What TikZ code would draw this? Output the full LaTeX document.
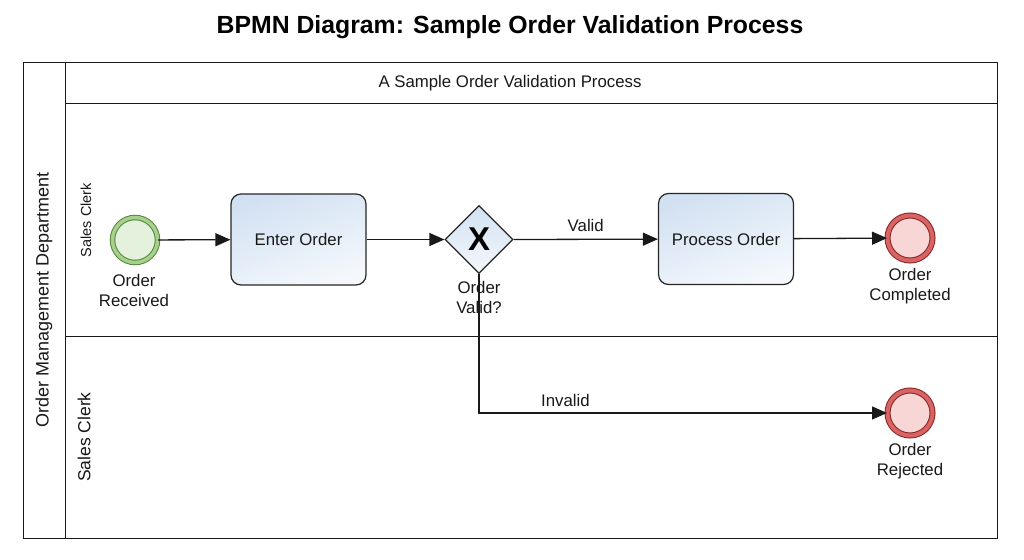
\documentclass[tikz,border=0pt]{standalone}
\usepackage{fontspec}
\setmainfont{Liberation Sans}
\usetikzlibrary{arrows.meta,shapes.geometric}
\definecolor{startdraw}{RGB}{80,135,60}
\definecolor{startring}{RGB}{168,208,140}
\definecolor{startfill}{RGB}{228,241,220}
\definecolor{enddraw}{RGB}{140,35,35}
\definecolor{endring}{RGB}{214,100,100}
\definecolor{endfill}{RGB}{249,214,214}
\definecolor{tasktop}{RGB}{210,225,242}
\definecolor{taskbot}{RGB}{244,248,252}
\definecolor{txt}{RGB}{25,25,25}
\tikzset{
  lbl/.style={font=\fontsize{16.8}{20}\selectfont, text=txt, align=center, inner sep=0},
  task/.style={draw=black!85, line width=1.2pt, rounded corners=10pt, minimum width=135, minimum height=91,
     top color=tasktop, bottom color=taskbot, shading angle=20, font=\fontsize{16.8}{20}\selectfont, text=txt},
  startev/.style={circle, draw=startdraw, double=startring, double distance=3.5pt, line width=1pt, fill=startfill,
     minimum size=45, inner sep=0},
  endev/.style={circle, draw=enddraw, double=endring, double distance=4pt, line width=1pt, fill=endfill,
     minimum size=45, inner sep=0},
  gwstyle/.style={diamond, draw=black!85, line width=1.2pt, minimum width=68, minimum height=68, inner sep=0,
     top color=tasktop, bottom color=taskbot, font=\fontsize{33}{33}\bfseries\selectfont},
  flow/.style={line width=1.3pt, draw=black!90, -{Triangle[length=15pt,width=13pt]}},
  frame/.style={line width=0.9pt, draw=black!90},
}
\begin{document}
\begin{tikzpicture}[x=1pt,y=-1pt]
\useasboundingbox (0,0) rectangle (1024,559);
\fill[white] (0,0) rectangle (1024,559);
% title
\node[font=\fontsize{24.8}{28}\bfseries\selectfont, inner sep=0] (title) at (510,27) {BPMN Diagram: Sample Order Validation Process};
% pool
\draw[frame] (23,62) rectangle (997,538);
\draw[frame] (65,62) -- (65,538);
\draw[frame] (65,103) -- (997,103);
\draw[frame] (65,336) -- (997,336);
\node[lbl, font=\fontsize{18}{20}\selectfont, rotate=90] (pool) at (44,300) {Order Management Department};
\node[lbl] (hdr) at (510,83) {A Sample Order Validation Process};
\node[lbl, font=\fontsize{14.5}{16}\selectfont, rotate=90] (lane1) at (86,220) {Sales Clerk};
\node[lbl, font=\fontsize{17.5}{18}\selectfont, rotate=90] (lane2) at (84,437) {Sales Clerk};
% elements
\node[startev] (start) at (135,240) {};
\node[lbl] (startl) at (134,290) {Order\\Received};
\node[task] (enter) at (298.5,239.5) {Enter Order};
\node[gwstyle] (gw) at (479,239.5) {X};
\node[lbl] (gwl) at (479,297) {Order\\Valid?};
\node[task] (proc) at (726,239) {Process Order};
\node[endev] (done) at (910,238) {};
\node[lbl] (donel) at (910,286) {Order\\Completed};
\node[endev] (rej) at (910,413) {};
\node[lbl] (rejl) at (910,461) {Order\\Rejected};
% flows
\draw[flow] (start) -- (enter);
\draw[flow] (enter) -- (gw.west);
\draw[flow] (gw.east) -- node[lbl, above=7pt] {Valid} (proc);
\draw[flow] (proc) -- (done);
\draw[flow] (gw.south) |- node[lbl, pos=0.606, above=6pt] {Invalid} (rej);
\end{tikzpicture}
\end{document}
